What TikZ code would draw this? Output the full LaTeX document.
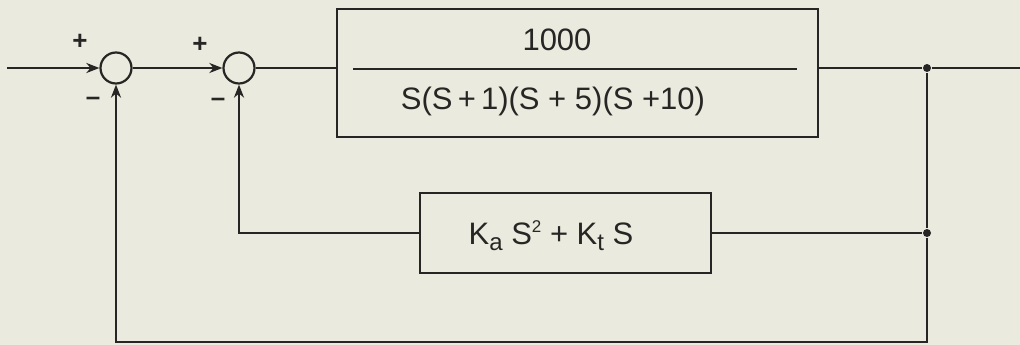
\documentclass[tikz,border=0pt]{standalone}
\usepackage{fontspec}
\setmainfont{Liberation Sans}
\usetikzlibrary{arrows.meta}
\definecolor{paper}{RGB}{234,234,222}
\definecolor{ink}{RGB}{40,38,36}
\begin{document}
\begin{tikzpicture}[x=1pt,y=-1pt,
  line width=2.2pt, draw=ink, text=ink,
  sumnode/.style={circle, draw=ink, line width=2.2pt, minimum size=31pt, inner sep=0pt},
  blockbox/.style={rectangle, draw=ink, line width=2.2pt, inner sep=0pt},
  lbl/.style={font=\fontsize{31}{34}\selectfont, inner sep=0pt},
  sgn/.style={font=\fontsize{26}{28}\selectfont\bfseries, inner sep=0pt},
  junc/.style={circle, fill=ink, inner sep=0pt, minimum size=8pt},
  arr/.style={-{Stealth[length=13pt,width=10pt,inset=4pt]}}]
\fill[paper] (0,0) rectangle (1020,345);
\useasboundingbox (0,0) rectangle (1020,345);
% nodes
\coordinate (in) at (7,68);
\node[sumnode] (s1) at (116,68) {};
\node[sumnode] (s2) at (239,68) {};
\node[blockbox, minimum width=481pt, minimum height=128pt] (G) at (577.5,73) {};
\node[blockbox, minimum width=291pt, minimum height=80pt] (H) at (565.5,233) {};
\node[junc] (j1) at (927,68) {};
\node[junc] (j2) at (927,233) {};
\coordinate (out) at (1020,68);
\coordinate (c1) at (927,342);
% block contents
\coordinate (fl) at (353,69);
\coordinate (fr) at (797,69);
\draw (fl) -- (fr);
\node[lbl] (num) at (557,40) {1000};
\node[lbl] (den) at (553,101) {S(S\,+\,1)(S + 5)(S +10)};
\node[lbl] (hl) at (551,236) {K\raisebox{-6pt}{\fontsize{24}{26}\selectfont a} S\raisebox{12pt}{\fontsize{17}{18}\selectfont 2} + K\raisebox{-6pt}{\fontsize{24}{26}\selectfont t} S};
% signs
\node[sgn] (p1) at (80,42) {+};
\node[sgn] (m1) at (93,101) {–};
\node[sgn] (p2) at (200,45) {+};
\node[sgn] (m2) at (218,102) {–};
% forward path
\draw[arr] (in) -- (s1.west);
\draw[arr] (s1.east) -- (s2.west);
\draw (s2.east) -- (s2 -| G.west);
\draw (G.east |- j1) -- (j1) -- (out);
% inner feedback
\draw (j1) -- (j2) -- (H.east |- j2);
\draw[arr] (H.west) -- (s2 |- H.west) -- (s2.south);
% outer feedback
\draw[arr] (j2) -- (c1) -- (s1 |- c1) -- (s1.south);
\end{tikzpicture}
\end{document}
